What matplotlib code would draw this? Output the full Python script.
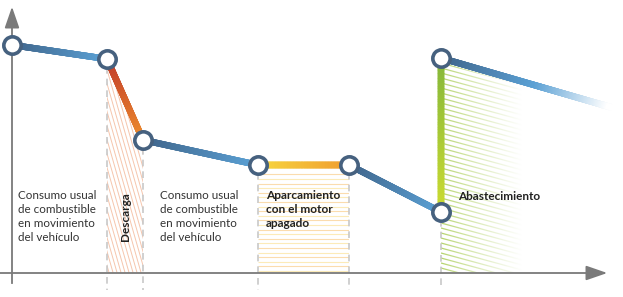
import numpy as np
import matplotlib
matplotlib.use("Agg")
import matplotlib.pyplot as plt
from matplotlib.collections import LineCollection
from matplotlib.colors import to_rgba
from matplotlib.patches import Polygon

plt.rcParams['font.family'] = ['Lato', 'DejaVu Sans']

# fuel level over time (pixel-like units)
t = [12, 107, 143, 258, 349, 441, 441]
level = [252, 238, 157, 132, 132, 85, 239]
t_end, level_end = 610, 190

seg_colors = [("#3f6388", "#5aa0d4"),   # consumo
              ("#c0392b", "#ec8a2c"),   # descarga
              ("#3f6388", "#5aa0d4"),   # consumo
              ("#f7d840", "#f0a030"),   # aparcamiento
              ("#3f6388", "#5aa0d4"),   # consumo
              ("#cddc30", "#86b83a")]   # abastecimiento

axis_y = 24
W, H = 623, 297

fig = plt.figure(figsize=(W / 100, H / 100), dpi=100)
ax = fig.add_axes([0, 0, 1, 1])
ax.set_xlim(0, W)
ax.set_ylim(0, H)
ax.axis('off')


def grad_line(x0, y0, x1, y1, c0, c1, n=60, lw=4.6, z=3):
    xs = np.linspace(x0, x1, n + 1)
    ys = np.linspace(y0, y1, n + 1)
    pts = np.column_stack([xs, ys]).reshape(-1, 1, 2)
    segs = np.concatenate([pts[:-1], pts[1:]], axis=1)
    r0, r1 = np.array(to_rgba(c0)), np.array(to_rgba(c1))
    f = np.linspace(0, 1, n)[:, None]
    cols = r0 * (1 - f) + r1 * f
    ax.add_collection(LineCollection(segs, colors=cols, linewidths=lw,
                                     capstyle='projecting', zorder=z))


def hatch(poly, lines, color, lw=0.8):
    patch = Polygon(poly, closed=True, facecolor='none', edgecolor='none')
    ax.add_patch(patch)
    lc = LineCollection(lines, colors=color, linewidths=lw, zorder=1)
    ax.add_collection(lc)
    lc.set_clip_path(patch)


# Descarga hatch region
poly = [(t[1], level[1]), (t[2], level[2]), (t[2], axis_y), (t[1], axis_y)]
lines = [[(x, 280), (x + 80, 0)] for x in np.arange(-20, 200, 4.0)]
hatch(poly, lines, "#f6c6ad", lw=0.7)

# Aparcamiento hatch region
poly = [(t[3], level[3] - 5), (t[4], level[4] - 5), (t[4], axis_y), (t[3], axis_y)]
lines = [[(t[3], y), (t[4], y)] for y in np.arange(axis_y + 2, level[3] - 5, 4.6)]
hatch(poly, [l for i, l in enumerate(lines) if i % 2 == 0], "#fcebb8", lw=0.8)
hatch(poly, [l for i, l in enumerate(lines) if i % 2 == 1], "#fbdcae", lw=0.8)

# Abastecimiento hatch region (fading to the right)
x_fade = 522
slope = (level_end - level[6]) / (t_end - t[6])
poly = [(t[6], level[6] - 4), (x_fade, level[6] - 4 + slope * (x_fade - t[6])),
        (x_fade, axis_y), (t[6], axis_y)]
lines = [[(t[6], y), (x_fade, y - 22)] for y in np.arange(axis_y, level[6] + 20, 5.0)]
hatch(poly, lines, "#b4d36a", lw=0.9)
grad = np.zeros((2, 100, 4))
grad[..., :3] = 1
grad[..., 3] = np.linspace(0, 1, 100) ** 0.8
ax.imshow(grad, extent=[t[6], x_fade, axis_y, level[6]], aspect='auto',
          zorder=1.5, interpolation='bilinear')

# dashed guide lines
dash = dict(color="#c8c8c8", lw=1.2, ls=(0, (4, 3)), zorder=2)
for x, y in zip(t[1:6], level[1:6]):
    ax.plot([x, x], [y - 8, axis_y - 17], **dash)

# axes with arrows
ax.plot([t[0], t[0]], [axis_y - 10, H - 18], color="#7a7a7a", lw=1.3, zorder=2)
ax.annotate("", xy=(t[0], H - 4), xytext=(t[0], H - 20),
            arrowprops=dict(arrowstyle="-|>,head_length=1.3,head_width=0.45",
                            color="#7a7a7a", lw=1.3))
ax.plot([0, t_end - 8], [axis_y, axis_y], color="#7a7a7a", lw=1.3, zorder=2)
ax.annotate("", xy=(t_end, axis_y), xytext=(t_end - 18, axis_y),
            arrowprops=dict(arrowstyle="-|>,head_length=1.3,head_width=0.45",
                            color="#7a7a7a", lw=1.3))

# fuel line segments
for i in range(len(t) - 1):
    c0, c1 = seg_colors[i]
    grad_line(t[i], level[i], t[i + 1], level[i + 1], c0, c1)
grad_line(t[6], level[6], t[6] + 95, level[6] + slope * 95, "#3f6388", "#5aa0d4")
grad_line(t[6] + 95, level[6] + slope * 95, t_end, level_end, "#5aa0d4", "#ffffff")

ax.plot(t, level, 'o', ms=12.5, mfc='white', mec="#46617f", mew=2.6, zorder=5)

# labels
txt = dict(fontsize=8.4, color="#333333", va='top', linespacing=1.35)
ax.text(18, H - 190, "Consumo usual\nde combustible\nen movimiento\ndel vehículo", **txt)
ax.text(160, H - 190, "Consumo usual\nde combustible\nen movimiento\ndel vehículo", **txt)
ax.text(125, H - 217, "Descarga", rotation=90, ha='center', va='center',
        fontsize=8.5, fontweight='bold', color="#222222")
ax.text(266, H - 190, "Aparcamiento\ncon el motor\napagado", fontsize=8.6,
        fontweight='bold', color="#222222", va='top', linespacing=1.35)
ax.text(458, H - 191, "Abastecimiento", fontsize=8.5, fontweight='bold',
        color="#222222", va='top')

fig.savefig("out.png", dpi=100)
